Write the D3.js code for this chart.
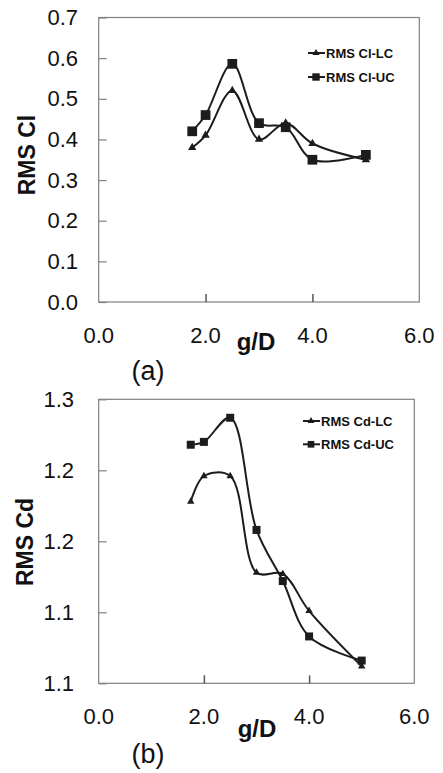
<!DOCTYPE html>
<html>
<head>
<meta charset="utf-8">
<script src="https://cdn.jsdelivr.net/npm/d3@7"></script>
<style>
  html, body { margin: 0; padding: 0; background: #fff; }
  svg { display: block; }
</style>
</head>
<body>
<svg id="chart" width="443" height="773"></svg>
<script>
// Gap ratio g/D sampled in both panels
const gapRatio = [1.75, 2.0, 2.5, 3.0, 3.5, 4.0, 5.0];

// Panel (a): RMS lift coefficient
const rmsClLC = [0.38, 0.41, 0.52, 0.40, 0.44, 0.39, 0.35];
const rmsClUC = [0.42, 0.46, 0.586, 0.44, 0.43, 0.35, 0.362];

// Panel (b): RMS drag coefficient
const rmsCdLC = [1.228, 1.246, 1.246, 1.178, 1.177, 1.151, 1.112];
const rmsCdUC = [1.268, 1.270, 1.287, 1.208, 1.172, 1.133, 1.116];

// Axis ticks and their printed labels
const xTicks = [0, 2, 4, 6];
const xTickLabels = ["0.0", "2.0", "4.0", "6.0"];
const clTicks = [0, 0.1, 0.2, 0.3, 0.4, 0.5, 0.6, 0.7];
const clTickLabels = ["0.0", "0.1", "0.2", "0.3", "0.4", "0.5", "0.6", "0.7"];
const cdTicks = [1.10, 1.15, 1.20, 1.25, 1.30];
const cdTickLabels = ["1.1", "1.1", "1.2", "1.2", "1.3"];

const svg = d3.select("#chart");
const axisColor = "#808080";
const ink = "#1c1c1c";

function drawPanel(p) {
  const g = svg.append("g");
  const x = d3.scaleLinear().domain([0, 6]).range([p.left, p.right]);
  const y = d3.scaleLinear().domain(p.yDomain).range([p.bottom, p.top]);

  // frame
  g.append("rect")
    .attr("x", p.left).attr("y", p.top)
    .attr("width", p.right - p.left).attr("height", p.bottom - p.top)
    .attr("fill", "none").attr("stroke", axisColor).attr("stroke-width", 1.2);

  // y axis (inside ticks)
  const yAxis = d3.axisRight(y).tickValues(p.yTicks).tickSize(8).tickFormat("");
  const ya = g.append("g").attr("transform", `translate(${p.left},0)`).call(yAxis);
  ya.select(".domain").remove();
  ya.selectAll(".tick line").attr("stroke", axisColor).attr("stroke-width", 1.2);
  g.append("g").selectAll("text").data(p.yTicks).join("text")
    .attr("x", p.yLabelRight).attr("y", d => y(d))
    .attr("text-anchor", "end").attr("dominant-baseline", "central")
    .attr("font-family", "Liberation Sans, Arial, sans-serif")
    .attr("font-size", 22).attr("fill", "#111")
    .text((d, i) => p.yTickLabels[i]);

  // x axis (inside ticks)
  const xAxis = d3.axisTop(x).tickValues([2, 4]).tickSize(8).tickFormat("");
  const xa = g.append("g").attr("transform", `translate(0,${p.bottom})`).call(xAxis);
  xa.select(".domain").remove();
  xa.selectAll(".tick line").attr("stroke", "#555").attr("stroke-width", 1.5);
  g.append("g").selectAll("text").data(xTicks).join("text")
    .attr("x", d => x(d)).attr("y", p.xLabelY)
    .attr("text-anchor", "middle").attr("dominant-baseline", "central")
    .attr("font-family", "Liberation Sans, Arial, sans-serif")
    .attr("font-size", 22).attr("fill", "#111")
    .text((d, i) => xTickLabels[i]);

  // axis titles
  g.append("text")
    .attr("transform", `translate(${p.yTitleX},${p.yTitleY}) rotate(-90)`)
    .attr("text-anchor", "middle").attr("dominant-baseline", "central")
    .attr("font-family", "Liberation Sans, Arial, sans-serif")
    .attr("font-weight", "bold").attr("font-size", 23).attr("fill", "#111")
    .text(p.yTitle);
  g.append("text")
    .attr("x", p.xTitleX).attr("y", p.xTitleY)
    .attr("text-anchor", "middle")
    .attr("font-family", "Liberation Sans, Arial, sans-serif")
    .attr("font-weight", "bold").attr("font-size", 24).attr("fill", "#111")
    .text("g/D");
  g.append("text")
    .attr("x", p.tagX).attr("y", p.tagY)
    .attr("text-anchor", "middle")
    .attr("font-family", "Liberation Sans, Arial, sans-serif")
    .attr("font-size", 27).attr("fill", "#111")
    .text(p.tag);

  // smoothed series
  const line = d3.line()
    .x((d, i) => x(gapRatio[i]))
    .y(d => y(d))
    .curve(d3.curveCatmullRom.alpha(0.5));

  p.series.forEach(s => {
    g.append("path").datum(s.values)
      .attr("d", line)
      .attr("fill", "none").attr("stroke", ink).attr("stroke-width", 2);
    const sym = d3.symbol().type(s.symbol).size(s.size);
    g.append("g").selectAll("path").data(s.values).join("path")
      .attr("transform", (d, i) => `translate(${x(gapRatio[i])},${y(d)})`)
      .attr("d", sym).attr("fill", ink);
  });

  // legend
  p.series.forEach((s, k) => {
    const ly = p.legendY + k * p.legendGap;
    g.append("line")
      .attr("x1", p.legendX).attr("x2", p.legendX + 17)
      .attr("y1", ly).attr("y2", ly)
      .attr("stroke", ink).attr("stroke-width", 2);
    g.append("path")
      .attr("transform", `translate(${p.legendX + 8},${ly})`)
      .attr("d", d3.symbol().type(s.symbol).size(s.legendSize))
      .attr("fill", ink);
    g.append("text")
      .attr("x", p.legendX + 18).attr("y", ly)
      .attr("dominant-baseline", "central")
      .attr("font-family", "Liberation Sans, Arial, sans-serif")
      .attr("font-weight", "bold").attr("font-size", 13).attr("fill", "#111")
      .text(s.name);
  });
}

drawPanel({
  left: 98.7, right: 419.3, top: 17.5, bottom: 302,
  yDomain: [0, 0.7], yTicks: clTicks, yTickLabels: clTickLabels,
  yLabelRight: 78, xLabelY: 335,
  yTitle: "RMS Cl", yTitleX: 27, yTitleY: 155,
  xTitleX: 256, xTitleY: 350, tag: "(a)", tagX: 148, tagY: 380,
  legendX: 308, legendY: 53, legendGap: 24,
  series: [
    { name: "RMS Cl-LC", values: rmsClLC, symbol: d3.symbolTriangle, size: 30, legendSize: 22 },
    { name: "RMS Cl-UC", values: rmsClUC, symbol: d3.symbolSquare, size: 95, legendSize: 55 }
  ]
});

drawPanel({
  left: 98.7, right: 414.3, top: 399.3, bottom: 683.3,
  yDomain: [1.10, 1.30], yTicks: cdTicks, yTickLabels: cdTickLabels,
  yLabelRight: 74, xLabelY: 716.7,
  yTitle: "RMS Cd", yTitleX: 25, yTitleY: 542,
  xTitleX: 257, xTitleY: 737, tag: "(b)", tagX: 148, tagY: 763,
  legendX: 303, legendY: 421, legendGap: 23.3,
  series: [
    { name: "RMS Cd-LC", values: rmsCdLC, symbol: d3.symbolTriangle, size: 24, legendSize: 20 },
    { name: "RMS Cd-UC", values: rmsCdUC, symbol: d3.symbolSquare, size: 64, legendSize: 45 }
  ]
});
</script>
</body>
</html>
